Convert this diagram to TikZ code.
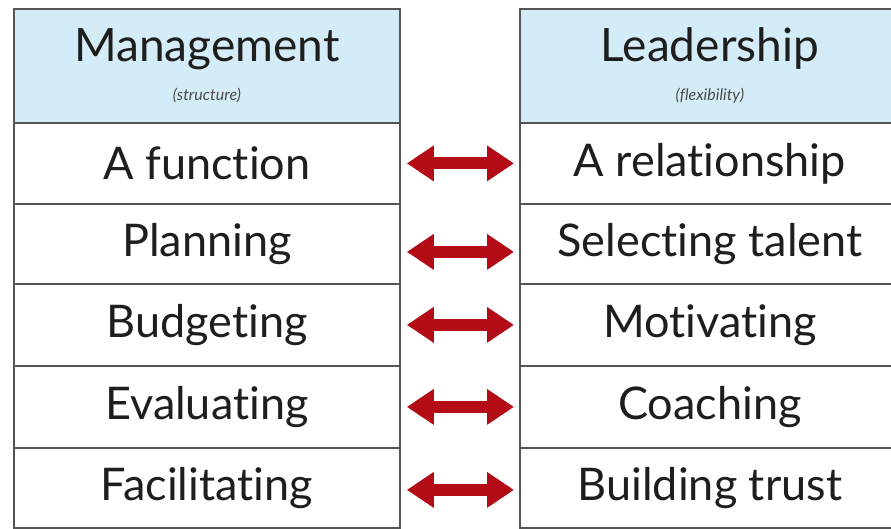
\documentclass[tikz,border=0pt]{standalone}
\usepackage{fontspec}
\setmainfont[Ligatures=NoCommon]{Lato}
\usetikzlibrary{arrows.meta}
\definecolor{hdrblue}{RGB}{212,236,248}
\definecolor{gridgray}{RGB}{85,85,85}
\definecolor{arrred}{RGB}{180,12,22}
\definecolor{inktext}{RGB}{30,30,30}
\begin{document}
\begin{tikzpicture}[x=1pt,y=1pt,
  cellbox/.style={draw=gridgray, line width=1.8pt, anchor=north west, inner sep=0pt,
    font=\fontsize{45}{47}\selectfont, text=inktext},
  hdrbox/.style={cellbox, fill=hdrblue, align=center},
  dblarrow/.style={draw=arrred, line width=12pt,
    {Triangle[width=34pt,length=27pt]}-{Triangle[width=34pt,length=27pt]}, shorten <=6pt, shorten >=5pt}
]
\useasboundingbox (0,0) rectangle (891,-528);
\fill[white] (0,0) rectangle (891,-528);
\begin{scope}
\clip (0,0) rectangle (891,-528);
% left table
\node[hdrbox, minimum width=386pt, minimum height=114pt] (lh) at (13,-8)
  {\raisebox{-4pt}{\fontsize{46}{48}\selectfont Management}\\[-4pt]{\fontsize{16}{18}\selectfont\itshape\color{inktext!80} (structure)}};
\node[cellbox, minimum width=386pt, minimum height=81pt] (l1) at (13,-122) {A function};
\node[cellbox, minimum width=386pt, minimum height=80pt] (l2) at (13,-203) {Planning};
\node[cellbox, minimum width=386pt, minimum height=82pt] (l3) at (13,-283) {Budgeting};
\node[cellbox, minimum width=386pt, minimum height=82pt] (l4) at (13,-365) {Evaluating};
\node[cellbox, minimum width=386pt, minimum height=80pt] (l5) at (13,-447) {Facilitating};
% right table
\node[hdrbox, minimum width=380pt, minimum height=114pt] (rh) at (519,-8)
  {\raisebox{-4pt}{\fontsize{46}{48}\selectfont Leadership}\\[-4pt]{\fontsize{16}{18}\selectfont\itshape\color{inktext!80} (flexibility)}};
\node[cellbox, minimum width=380pt, minimum height=81pt] (r1) at (519,-122) {A relationship};
\node[cellbox, minimum width=380pt, minimum height=80pt] (r2) at (519,-203) {Selecting talent};
\node[cellbox, minimum width=380pt, minimum height=82pt] (r3) at (519,-283) {Motivating};
\node[cellbox, minimum width=380pt, minimum height=82pt] (r4) at (519,-365) {Coaching};
\node[cellbox, minimum width=380pt, minimum height=80pt] (r5) at (519,-447) {Building trust};
\end{scope}
% arrows
\draw[dblarrow] (l1.east) -- (r1.west);
\draw[dblarrow] ([yshift=-8pt]l2.east) -- ([yshift=-8pt]r2.west);
\draw[dblarrow] (l3.east) -- (r3.west);
\draw[dblarrow] (l4.east) -- (r4.west);
\draw[dblarrow] ([yshift=-2pt]l5.east) -- ([yshift=-2pt]r5.west);
\end{tikzpicture}
\end{document}
